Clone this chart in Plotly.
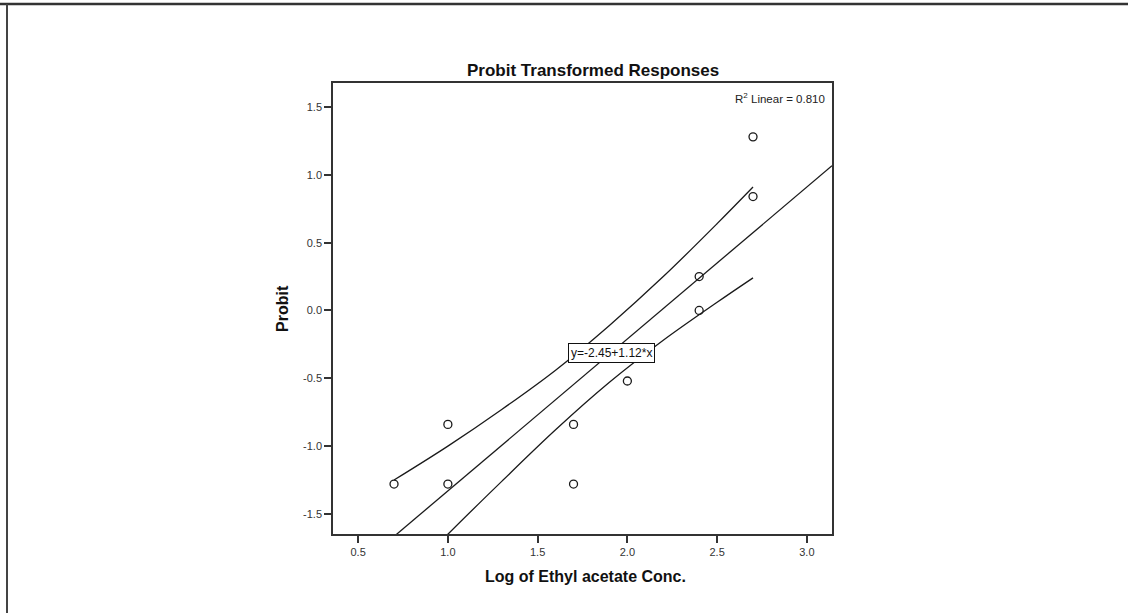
import plotly.graph_objects as go

# ---- data ----
log_conc = [0.7, 1.0, 1.0, 1.7, 1.7, 2.0, 2.4, 2.4, 2.7, 2.7]
probit = [-1.28, -0.84, -1.28, -0.84, -1.28, -0.52, 0.25, 0.0, 1.28, 0.84]

fit_x = [0.36, 3.14]
fit_y = [-2.047, 1.067]

ci_x = [0.7, 1.0, 1.3, 1.6, 1.9, 2.2, 2.5, 2.7]
ci_upper = [-1.25, -1.00, -0.73, -0.44, -0.11, 0.25, 0.64, 0.91]
ci_lower = [-2.06, -1.65, -1.26, -0.88, -0.53, -0.22, 0.06, 0.24]

x_ticks = [0.5, 1.0, 1.5, 2.0, 2.5, 3.0]
y_ticks = [-1.5, -1.0, -0.5, 0.0, 0.5, 1.0, 1.5]

title_text = "Probit Transformed Responses"
x_title = "Log of Ethyl acetate Conc."
y_title = "Probit"
r2_text = "R<sup>2</sup> Linear = 0.810"
eq_text = "y=-2.45+1.12*x"
eq_pos = (1.914, -0.31)

W, H = 1128, 613
L, R, T, B = 333, 832, 83, 534


def px(x):
    return (x - L) / (R - L)


def py(y):
    return (B - y) / (B - T)


FONT = "Liberation Sans, Arial"
line_col = "#1a1a1a"
fig = go.Figure()
fig.add_trace(go.Scatter(x=fit_x, y=fit_y, mode="lines",
                         line=dict(color=line_col, width=1.3), hoverinfo="skip"))
fig.add_trace(go.Scatter(x=ci_x, y=ci_upper, mode="lines",
                         line=dict(color=line_col, width=1.3, shape="spline"), hoverinfo="skip"))
fig.add_trace(go.Scatter(x=ci_x, y=ci_lower, mode="lines",
                         line=dict(color=line_col, width=1.3, shape="spline"), hoverinfo="skip"))
fig.add_trace(go.Scatter(x=log_conc, y=probit, mode="markers",
                         marker=dict(symbol="circle-open", size=8, color=line_col,
                                     line=dict(width=1.3, color=line_col))))

axis_common = dict(showgrid=False, zeroline=False, showline=True, mirror=True,
                   linecolor="#333", linewidth=1.5, ticks="outside", ticklen=7,
                   tickwidth=1.5, tickcolor="#333",
                   tickfont=dict(family=FONT, size=11, color="#333"))

fig.update_layout(
    width=W, height=H,
    margin=dict(l=L, r=W - R, t=T, b=H - B),
    paper_bgcolor="white", plot_bgcolor="white",
    showlegend=False,
    xaxis=dict(range=[0.36, 3.14], tickvals=x_ticks,
               ticktext=[f"{v:.1f}" for v in x_ticks], **axis_common),
    yaxis=dict(range=[-1.648, 1.677], tickvals=y_ticks,
               ticktext=[f"{v:.1f}" for v in y_ticks], **axis_common),
)

fig.add_annotation(text=f"<b>{title_text}</b>", xref="paper", yref="paper",
                   x=px(593), y=py(70), showarrow=False,
                   font=dict(family=FONT, size=17, color="#111"),
                   xanchor="center", yanchor="middle")
fig.add_annotation(text=f"<b>{x_title}</b>", xref="paper", yref="paper",
                   x=px(585), y=py(576), showarrow=False,
                   font=dict(family=FONT, size=16, color="#111"),
                   xanchor="center", yanchor="middle")
fig.add_annotation(text=f"<b>{y_title}</b>", xref="paper", yref="paper",
                   x=px(282), y=py(309), showarrow=False, textangle=-90,
                   font=dict(family=FONT, size=16, color="#111"),
                   xanchor="center", yanchor="middle")
fig.add_annotation(text=r2_text, xref="paper", yref="paper",
                   x=px(827), y=py(98), showarrow=False,
                   font=dict(family=FONT, size=11.5, color="#222"),
                   xanchor="right", yanchor="middle")
fig.add_annotation(text=eq_text, x=eq_pos[0], y=eq_pos[1], xref="x", yref="y",
                   showarrow=False, bgcolor="white", bordercolor="#111",
                   borderwidth=1, borderpad=2,
                   font=dict(family=FONT, size=12, color="#111"))

# page frame lines
fig.add_shape(type="line", xref="paper", yref="paper",
              x0=px(0), x1=px(W), y0=py(4), y1=py(4),
              line=dict(color="#333", width=2.5))
fig.add_shape(type="line", xref="paper", yref="paper",
              x0=px(7), x1=px(7), y0=py(4), y1=py(H),
              line=dict(color="#444", width=2))

fig.write_html("out.html")
